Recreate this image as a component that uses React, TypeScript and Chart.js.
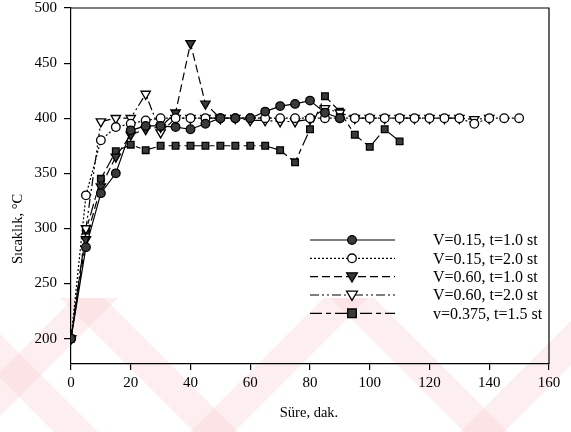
import React, { useEffect, useRef } from "react";
import { Chart, registerables } from "chart.js";

Chart.register(...registerables);

const xTicks = [0, 20, 40, 60, 80, 100, 120, 140, 160];
const yTicks = [200, 250, 300, 350, 400, 450, 500];

const seriesNames = [
  "V=0.15, t=1.0 st",
  "V=0.15, t=2.0 st",
  "V=0.60, t=1.0 st",
  "V=0.60, t=2.0 st",
  "v=0.375, t=1.5 st",
];

const s1X = [0, 5, 10, 15, 20, 25, 30, 35, 40, 45, 50, 55, 60, 65, 70, 75, 80, 85, 90];
const s1Y = [200, 283, 332, 350, 389, 393, 393, 392, 390, 395, 400, 400, 400, 406, 411, 413, 416, 405, 400];

const s2X = [0, 5, 10, 15, 20, 25, 30, 35, 40, 45, 50, 55, 60, 65, 70, 75, 80, 85, 90, 95, 100, 105, 110, 115, 120, 125, 130, 135, 140, 145, 150];
const s2Y = [200, 330, 380, 392, 395, 398, 400, 400, 400, 400, 400, 400, 400, 400, 400, 400, 400, 400, 400, 400, 400, 400, 400, 400, 400, 400, 400, 395, 400, 400, 400];

const s3X = [0, 5, 10, 15, 20, 25, 30, 35, 40, 45, 50];
const s3Y = [200, 290, 338, 365, 385, 390, 392, 405, 468, 413, 400];

const s4X = [0, 5, 10, 15, 20, 25, 30, 35, 40, 45, 50, 55, 60, 65, 70, 75, 80, 85, 90, 95, 100, 105, 110, 115, 120, 125, 130, 135, 140];
const s4Y = [200, 300, 397, 400, 400, 422, 387, 400, 400, 400, 400, 400, 398, 398, 397, 397, 399, 409, 405, 400, 400, 400, 400, 400, 400, 400, 400, 399, 400];

const s5X = [0, 5, 10, 15, 20, 25, 30, 35, 40, 45, 50, 55, 60, 65, 70, 75, 80, 85, 90, 95, 100, 105, 110];
const s5Y = [200, 298, 345, 370, 376, 371, 375, 375, 375, 375, 375, 375, 375, 375, 371, 360, 390, 420, 406, 385, 374, 390, 379];

const FONT = "'Liberation Serif', 'DejaVu Serif', serif";

type Style = {
  dash: number[];
  shape: "circle" | "tri" | "rect";
  filled: boolean;
};

const styles: Style[] = [
  { dash: [], shape: "circle", filled: true },
  { dash: [2, 2], shape: "circle", filled: false },
  { dash: [8, 4], shape: "tri", filled: true },
  { dash: [9, 3, 2, 3, 2, 3], shape: "tri", filled: false },
  { dash: [12, 4, 5, 4], shape: "rect", filled: true },
];

function zip(xs: number[], ys: number[]) {
  return xs.map((x, i) => ({ x, y: ys[i] }));
}

function drawMarker(ctx: CanvasRenderingContext2D, st: Style, x: number, y: number) {
  ctx.save();
  ctx.setLineDash([]);
  ctx.lineWidth = 1.3;
  ctx.strokeStyle = "#000";
  ctx.fillStyle = st.filled ? "#3a3a3a" : "#fff";
  ctx.beginPath();
  if (st.shape === "circle") {
    ctx.arc(x, y, 4.3, 0, Math.PI * 2);
  } else if (st.shape === "tri") {
    const r = 5.4;
    ctx.moveTo(x - r, y - r * 0.7);
    ctx.lineTo(x + r, y - r * 0.7);
    ctx.lineTo(x, y + r);
    ctx.closePath();
  } else {
    ctx.rect(x - 4.3, y - 4.3, 8.6, 8.6);
  }
  ctx.fill();
  ctx.stroke();
  ctx.restore();
}

const bgPlugin = {
  id: "bgWatermark",
  beforeDraw(chart: any) {
    const ctx = chart.ctx as CanvasRenderingContext2D;
    const W = chart.width, H = chart.height;
    ctx.save();
    ctx.fillStyle = "#fff";
    ctx.fillRect(0, 0, W, H);
    const top = 298, bot = H;
    ctx.beginPath();
    ctx.rect(0, top, W, bot - top);
    ctx.clip();
    ctx.fillStyle = "rgba(250, 205, 212, 0.35)";
    const h = bot - top;
    const w = 44;
    [-80, 60, 330].forEach((tx) => {
      ctx.beginPath();
      ctx.moveTo(tx, top);
      ctx.lineTo(tx + w, top);
      ctx.lineTo(tx + w + h, bot);
      ctx.lineTo(tx + h, bot);
      ctx.closePath();
      ctx.fill();
    });
    [-60, 190, 460].forEach((bx) => {
      ctx.beginPath();
      ctx.moveTo(bx, bot);
      ctx.lineTo(bx + w, bot);
      ctx.lineTo(bx + w + h, top);
      ctx.lineTo(bx + h, top);
      ctx.closePath();
      ctx.fill();
    });
    ctx.restore();
  },
};

const framePlugin = {
  id: "frameAndLegend",
  afterDraw(chart: any) {
    const ctx = chart.ctx as CanvasRenderingContext2D;
    const a = chart.chartArea;
    ctx.save();
    ctx.strokeStyle = "#000";
    ctx.lineWidth = 1.2;
    ctx.setLineDash([]);
    ctx.beginPath();
    ctx.moveTo(a.left, a.top);
    ctx.lineTo(a.right, a.top);
    ctx.lineTo(a.right, a.bottom);
    ctx.stroke();

    ctx.fillStyle = "#000";
    ctx.font = `14.5px ${FONT}`;
    ctx.textAlign = "center";
    ctx.textBaseline = "middle";
    ctx.fillText("Süre, dak.", 309, 413);
    ctx.save();
    ctx.translate(18, 229);
    ctx.rotate(-Math.PI / 2);
    ctx.fillText("Sıcaklık, °C", 0, 0);
    ctx.restore();

    const rows = [240, 258.3, 276.6, 295, 313.3];
    seriesNames.forEach((name, i) => {
      const st = styles[i];
      const y = rows[i];
      ctx.save();
      ctx.strokeStyle = "#000";
      ctx.lineWidth = 1.2;
      ctx.setLineDash(st.dash);
      ctx.beginPath();
      ctx.moveTo(310, y);
      ctx.lineTo(395, y);
      ctx.stroke();
      ctx.restore();
      drawMarker(ctx, st, 352, y);
      ctx.fillStyle = "#000";
      ctx.font = `16px ${FONT}`;
      ctx.textAlign = "left";
      ctx.textBaseline = "middle";
      ctx.fillText(name, 433, y + 1);
    });
    ctx.restore();
  },
};

export default function App() {
  const ref = useRef<HTMLCanvasElement | null>(null);

  useEffect(() => {
    const canvas = ref.current;
    if (!canvas) return;
    const seriesData = [
      zip(s1X, s1Y),
      zip(s2X, s2Y),
      zip(s3X, s3Y),
      zip(s4X, s4Y),
      zip(s5X, s5Y),
    ];
    const datasets = seriesData.map((d, i) => {
      const st = styles[i];
      return {
        label: seriesNames[i],
        data: d,
        borderColor: "#000",
        borderWidth: 1.2,
        borderDash: st.dash,
        backgroundColor: st.filled ? "#3a3a3a" : "#fff",
        pointBackgroundColor: st.filled ? "#3a3a3a" : "#fff",
        pointBorderColor: "#000",
        pointBorderWidth: 1.3,
        pointStyle: st.shape === "circle" ? "circle" : st.shape === "tri" ? "triangle" : "rect",
        pointRotation: st.shape === "tri" ? 180 : 0,
        pointRadius: st.shape === "circle" ? 4.3 : st.shape === "tri" ? 5.4 : 4.7,
        tension: 0,
        fill: false,
      };
    });

    const chart = new Chart(canvas, {
      type: "line",
      data: { datasets },
      plugins: [bgPlugin, framePlugin],
      options: {
        responsive: false,
        animation: false,
        devicePixelRatio: 1,
        layout: { padding: { top: 8, right: 22, left: 0, bottom: 0 } },
        plugins: {
          legend: { display: false },
          tooltip: { enabled: false },
          title: { display: false },
        },
        scales: {
          x: {
            type: "linear",
            min: 0,
            max: 160,
            afterBuildTicks: (s: any) => {
              s.ticks = xTicks.map((v) => ({ value: v }));
            },
            afterFit: (s: any) => {
              s.height = 68;
            },
            grid: {
              drawOnChartArea: false,
              drawTicks: true,
              tickLength: 6,
              color: "#000",
              lineWidth: 1.2,
            },
            border: { display: true, color: "#000", width: 1.2 },
            ticks: {
              color: "#000",
              font: { family: FONT, size: 15 },
              padding: 4,
              maxRotation: 0,
            },
          },
          y: {
            type: "linear",
            min: 177,
            max: 500,
            afterBuildTicks: (s: any) => {
              s.ticks = yTicks.map((v) => ({ value: v }));
            },
            afterFit: (s: any) => {
              s.width = 71;
              s.paddingTop = 0;
              s.paddingBottom = 0;
            },
            grid: {
              drawOnChartArea: false,
              drawTicks: true,
              tickLength: 7,
              color: "#000",
              lineWidth: 1.2,
            },
            border: { display: true, color: "#000", width: 1.2 },
            ticks: {
              color: "#000",
              font: { family: FONT, size: 15 },
              padding: 7,
            },
          },
        },
      },
    });
    return () => chart.destroy();
  }, []);

  return (
    <div style={{ position: "absolute", left: 0, top: 0, width: 571, height: 432 }}>
      <canvas ref={ref} width={571} height={432} style={{ width: 571, height: 432, display: "block" }} />
    </div>
  );
}
